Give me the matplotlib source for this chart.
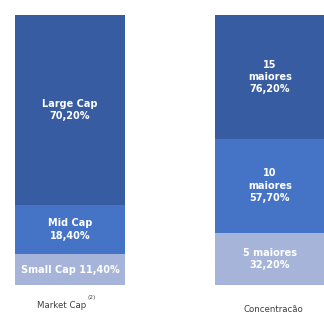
import numpy as np
import matplotlib.pyplot as plt

plt.rcParams['font.family'] = ['DejaVu Sans']

# data
categories = ['Market Cap', 'Concentracão']
mcap_labels = ['Small Cap', 'Mid Cap', 'Large Cap']
mcap_values = [11.40, 18.40, 70.20]
conc_labels = ['5 maiores', '10\nmaiores', '15\nmaiores']
conc_values = [32.20, 57.70, 76.20]

colors = ['#a7b4da', '#4574c6', '#375ca2']

fig = plt.figure(figsize=(3.24, 3.13), dpi=100)
ax = fig.add_axes([0, 28/313, 1, 270/313])

def fmt(v):
    return ('%.2f%%' % v).replace('.', ',')

width = 0.55
for i, (labels, vals) in enumerate([(mcap_labels, mcap_values), (conc_labels, conc_values)]):
    vals = np.array(vals)
    shares = vals / vals.sum() * 100
    bottom = 0
    for j, (lab, v, s) in enumerate(zip(labels, vals, shares)):
        ax.bar(i, s, width, bottom=bottom, color=colors[j], linewidth=0)
        if i == 0 and j == 0:
            txt = lab + ' ' + fmt(v)
        else:
            txt = lab + '\n' + fmt(v)
        ax.text(i, bottom + s / 2, txt, ha='center', va='center', color='white',
                fontsize=7, fontweight='bold', linespacing=1.3)
        bottom += s

ax.set_xlim(-0.35, 1.27)
ax.set_ylim(0, 100)
ax.axis('off')

fig.text(62/324, 1 - 305/313, 'Market Cap', ha='center', va='center',
         fontsize=6.2, color='#404040')
fig.text(87/324, 1 - 297/313, '(2)', ha='left', va='center',
         fontsize=4.2, color='#404040')
fig.text(273/324, 1 - 309/313, 'Concentracão', ha='center', va='center',
         fontsize=6.2, color='#404040')

fig.savefig('out.png', dpi=100)
